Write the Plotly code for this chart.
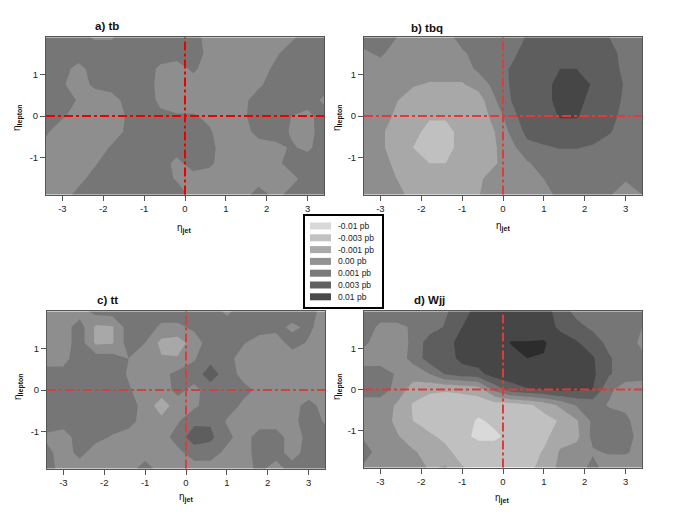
import plotly.graph_objects as go

LEVEL_LABELS = ["-0.01 pb", "-0.003 pb", "-0.001 pb", "0.00 pb", "0.001 pb", "0.003 pb", "0.01 pb"]
BAND_COLORS = ["#d9d9d9", "#c0c0c0", "#a8a8a8", "#8e8e8e", "#767676", "#5e5e5e", "#464646", "#2c2c2c"]
LEGEND_COLORS = ["#d8d8d8", "#c2c2c2", "#aaaaaa", "#929292", "#7a7a7a", "#626262", "#4a4a4a"]

ETA_JET = [-3.4, -3.0, -2.6, -2.2, -1.8, -1.4, -1.0, -0.6, -0.2, 0.2, 0.6, 1.0, 1.4, 1.8, 2.2, 2.6, 3.0, 3.4]
ETA_LEP = [1.9, 1.52, 1.14, 0.76, 0.38, 0.0, -0.38, -0.76, -1.14, -1.52, -1.9]

# Band position per grid node (0 = -0.01 pb ... 6 = 0.01 pb), rows run from top to bottom
TB = [
    [4,4,3.8,3.4,3.4,4,4,4,4,3.8,3.2,3,3,3,3,3.3,4,4],
    [4,4,4,4,4,4,4,4,4,4,3.2,3,3,3,3.3,4,4,4],
    [4,3.8,3.2,3.9,4,4,4,3.3,3,3.7,3,3,3,3,3.7,4,4,4],
    [4,3.6,3.1,3.7,4,4,4,3.2,3,3,3,3,3,3.3,4,4,4,4],
    [4,4,3.4,3,3,3.9,4,3.3,3,3,3,3,3.2,4,4,4,4,3.3],
    [3.9,3.6,3.2,3,3,3.6,4,3.7,3.6,3.6,3.3,3,3.3,4,4,3.5,3.2,4],
    [3.6,3.1,3,3,3,3.7,4,4,4,4,3.6,3,3,3.9,4,3.4,3.2,3.9],
    [3.3,3,3,3,3.6,4,4,4,4,4,3.8,3,3,3,3.2,3.6,3.3,4],
    [3.2,3,3,3.4,4,4,4,4,3.2,4,3.7,3,3,3,3.2,3.9,4,4],
    [3,3,3.2,3.9,4,4,4,3.9,3.4,3,3,3,3,3,3,3.2,3.9,4],
    [3,3.1,3.8,4,4,4,4,4,4,3.2,3,3,3,4,3.2,3.8,4,4],
]
TBQ = [
    [4,4,3.5,3,3,3,4,4,4,4,4.6,5,5,5,5,4.5,4,4],
    [3.3,3.7,3,3,3,3,3.3,4,4,4.2,5,5,5,5,5,5,4,4],
    [3,3,3,3,3,3,3,3.7,4,4.6,5,5,5.5,5.5,5,5,4.2,4],
    [3,3,3,2.6,2.4,2.4,2.4,2.9,3.8,4.6,5,5,6,6,5.4,5,4.4,4],
    [3,3,2.55,2,2,2,2,2,3.4,4.5,5,5,6,6,5,5,4.3,4],
    [3,3,2.3,2,1.7,1.7,2,2,2.8,4.2,5,5,5.6,5.6,5,5,4,4],
    [3,2.7,2,2,1,1,2,2,2.5,3.7,4.8,5,5,5,5,4.6,4,4],
    [3,2.7,2,1.5,1,1,2,2,2.4,3.2,4.2,4.4,4.55,4.55,4.4,4,4,4],
    [3,3,2.2,2,1.5,1.5,2,2,2.4,3,3.4,3.9,4,4,4,4,4,4],
    [3,3,2.5,2,2,2,2,2.3,3,3,3,3.5,4,4,4,4,3.6,4],
    [3,3,3,2,2,2,2,2.45,3,3,3,3,3.9,4,4,3.6,3,3.5],
]
TT = [
    [3,3,3,3.9,4,4,4,4,4,4,4,3.3,4,4,4,4,4,3],
    [3,3,4,2.3,2.4,4,4,3.3,3.3,3.7,4,4,4,4,3.8,3.3,3.7,3],
    [3,3,4,2.3,2.4,4,3.5,2.2,2,3,4,4,3.6,3,3,3.9,3.4,3],
    [3,3.2,4,4,4,3.5,3,2.6,2.6,3.4,4.2,3.9,3,3,3,3,3,3],
    [4,3.8,4,4,4,3.4,3,3.2,3.8,4,5,4,3.2,3,3,3,3,3],
    [4,4,4,4,4,3.6,3,3,3.8,3.2,4,4,3.8,3.3,3,3,3,3],
    [4,4,4,4,4,4,3.1,2,3,3.3,4,4,3.3,3,3,3.2,3.8,3.2],
    [4,4,4,4,4,3.9,3,2.8,3.4,4.3,4.4,3.4,3,3,3,3.2,4,3.4],
    [3.3,3,4,3.8,3.4,3,3,3,4,5,4.7,3.8,3,4,4,3,3.8,4],
    [3.8,3,3.8,3,3,3,3,3,3.2,4,4,3.2,3,4,4,3,4,4],
    [4,3,3,3,3,3,4,3,3,3,3,3,3,3.8,3,4,4,4],
]
WJJ = [
    [4,4,4,4,4,4.4,5,6,6,6,6,6,5,4.2,4,4,4,4],
    [4,3.3,3.3,3.6,4,4.6,5.5,6,6,6,6,6,5.3,4.8,4.3,4,4,3.5],
    [3.7,3,3,3.7,5,5,6,6,6,6.55,6.55,6.6,6,5.6,5,4.2,4,3.3],
    [3,3,3,3.8,5,5,5.8,6,6,6.2,6.5,6.45,6,6,5.6,4.6,4,3.7],
    [4,4,3.4,3,3.5,4.6,5,5.2,6,6,6,6,6,6,5.7,4.6,4,3.9],
    [4,4,3.2,2,1.7,1.6,1.7,1.9,3.8,5.1,5.45,5.6,5.8,5.7,5.5,3.7,3,3],
    [3,3,2.4,1.4,1,1,1,1,1,1,1.3,1.9,2.7,3.6,3.9,3.4,3.3,3.5],
    [3,3,2.3,1.5,1,1,1,0.35,0.75,1,1,1.1,1.6,2.4,3.7,4,3.7,3],
    [3.3,3,2.6,2,1.7,1.2,0.75,0.3,0.3,0.8,1,1.2,2.1,2.2,3.8,4,3.8,3.2],
    [4,3,3,2.6,2.2,1.8,1,1,1,1,1,1.6,2.6,3,3.4,3.6,3.6,3.2],
    [3.3,3,3,3,2.4,2.6,1.6,1,1,1,1.1,2,2.7,3,3.8,3,3,3.3],
]

# title, grid, axis suffix, plot box (l, r, t, b), title centre, jet label centre, lepton label centre
PANELS = [
    ("a) tb", TB, "", (46, 324, 37, 195), (107, 26), (184, 228), (17, 118)),
    ("b) tbq", TBQ, "2", (364, 642, 37, 195), (427, 28), (503, 226), (337, 118)),
    ("c) tt", TT, "3", (47, 325, 311, 469), (107, 300), (186, 497), (18, 387)),
    ("d) Wjj", WJJ, "4", (364, 642, 311, 468), (430, 300), (502, 498), (337, 387)),
]
X_TICKS = [-3, -2, -1, 0, 1, 2, 3]
Y_TICKS = [-1, 0, 1]
OFFSET = 8  # page margin around the figure
W, H = 678 - OFFSET, 523 - OFFSET
FONT = "Liberation Sans, Arial, sans-serif"

def px(v):
    return (v - OFFSET) / W

def py(v):
    return 1 - (v - OFFSET) / H

n = len(BAND_COLORS)
colorscale = []
for i, c in enumerate(BAND_COLORS):
    colorscale += [[i / n, c], [(i + 1) / n, c]]

fig = go.Figure()
shapes = []
annotations = []
layout = {}
for title, grid, suffix, (x0, x1, y0, y1), t_pos, j_pos, l_pos in PANELS:
    xa, ya = "x" + suffix, "y" + suffix
    fig.add_trace(go.Contour(
        x=ETA_JET, y=ETA_LEP, z=grid, xaxis=xa, yaxis=ya,
        colorscale=colorscale, zmin=-0.5, zmax=n - 0.5, showscale=False,
        autocontour=False,
        contours=dict(start=0.5, end=6.5, size=1, coloring="fill", showlines=False),
        line=dict(width=0, smoothing=0), hoverinfo="skip",
    ))
    red = "#ee0000" if suffix == "" else "#dd3c3c"
    fig.add_trace(go.Scatter(x=[0, 0], y=[-1.9, 1.9], xaxis=xa, yaxis=ya, mode="lines",
                             line=dict(color=red, width=2, dash="dashdot"), hoverinfo="skip", showlegend=False))
    fig.add_trace(go.Scatter(x=[-3.4, 3.4], y=[0, 0], xaxis=xa, yaxis=ya, mode="lines",
                             line=dict(color=red, width=2, dash="dashdot"), hoverinfo="skip", showlegend=False))
    common = dict(showgrid=False, zeroline=False, showline=True, mirror=True, linecolor="#555555", linewidth=1,
                  ticks="outside", ticklen=5, tickcolor="#555555", tickwidth=1,
                  tickfont=dict(size=9.5, family=FONT, color="#222222"))
    layout["xaxis" + suffix] = dict(common, domain=[px(x0), px(x1)], range=[-3.4, 3.4],
                                    anchor=ya, tickvals=X_TICKS, ticktext=[str(v) for v in X_TICKS])
    layout["yaxis" + suffix] = dict(common, domain=[py(y1), py(y0)], range=[-1.91, 1.91],
                                    anchor=xa, tickvals=Y_TICKS, ticktext=[str(v) for v in Y_TICKS])
    annotations.append(dict(text="<b>%s</b>" % title, x=px(t_pos[0]), y=py(t_pos[1]), xref="paper", yref="paper",
                            xanchor="center", yanchor="middle", showarrow=False,
                            font=dict(size=11.5, family=FONT, color="#111111")))
    annotations.append(dict(text="\u03b7<sub><b>jet</b></sub>", x=px(j_pos[0]), y=py(j_pos[1]),
                            xref="paper", yref="paper", xanchor="center", yanchor="middle", showarrow=False,
                            font=dict(size=10, family=FONT, color="#111111")))
    annotations.append(dict(text="\u03b7<sub><b>lepton</b></sub>", x=px(l_pos[0]), y=py(l_pos[1]),
                            xref="paper", yref="paper", xanchor="center", yanchor="middle", showarrow=False,
                            textangle=-90, font=dict(size=10, family=FONT, color="#111111")))

# Legend box
shapes.append(dict(type="rect", xref="paper", yref="paper", x0=px(304), x1=px(383), y0=py(308), y1=py(215),
                   line=dict(color="#000000", width=2), fillcolor="#ffffff"))
for i, label in enumerate(LEVEL_LABELS):
    yc = 226 + i * 11.8
    shapes.append(dict(type="rect", xref="paper", yref="paper", x0=px(310), x1=px(331),
                       y0=py(yc + 3.5), y1=py(yc - 3.5), line=dict(width=0), fillcolor=LEGEND_COLORS[i]))
    annotations.append(dict(text=label, x=px(336), y=py(yc), xref="paper", yref="paper", showarrow=False,
                            xanchor="left", yanchor="middle", font=dict(size=8.5, family=FONT, color="#222222")))

fig.update_layout(width=W, height=H, margin=dict(l=0, r=0, t=0, b=0), paper_bgcolor="white",
                  plot_bgcolor="white", showlegend=False, shapes=shapes, annotations=annotations, **layout)
fig.write_html("out.html")
